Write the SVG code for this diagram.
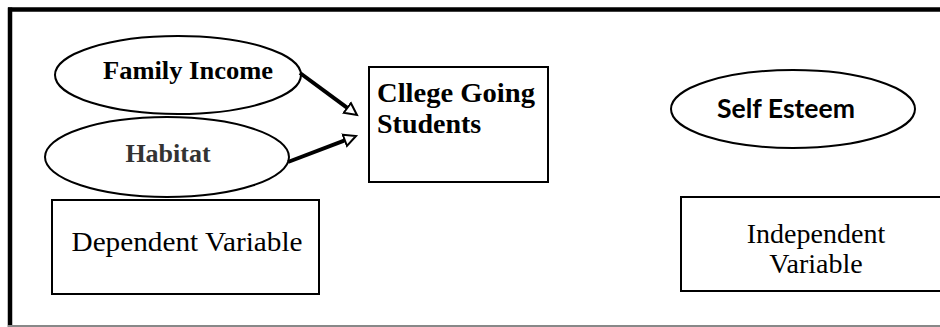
<svg xmlns="http://www.w3.org/2000/svg" width="940" height="327" viewBox="0 0 940 327">
<style>
.shape{fill:#fff;stroke:#000;stroke-width:2}
.serif{font-family:"Liberation Serif","Times New Roman",serif}
.b{font-weight:bold}
.conn{stroke:#000;stroke-width:4;fill:none}
</style>
<defs>
<marker id="head" markerUnits="userSpaceOnUse" markerWidth="16" markerHeight="16" refX="1" refY="7" orient="auto" viewBox="0 0 16 14">
<path d="M1,1 L13,7 L1,13 Z" fill="#fff" stroke="#000" stroke-width="2"/>
</marker>
</defs>
<rect width="940" height="327" fill="#fff"/>
<g id="frame">
<line x1="8" y1="9.5" x2="940" y2="9.5" stroke="#000" stroke-width="4.5"/>
<line x1="10" y1="7.5" x2="10" y2="327" stroke="#000" stroke-width="4.5"/>
<line x1="8" y1="326" x2="940" y2="326" stroke="#888" stroke-width="2"/>
</g>
<g id="family-income">
<ellipse class="shape" cx="178" cy="75" rx="123" ry="39"/>
<text class="serif b" x="188" y="79" font-size="26" text-anchor="middle" textLength="170" lengthAdjust="spacingAndGlyphs">Family Income</text>
</g>
<g id="habitat">
<ellipse class="shape" cx="167" cy="157" rx="122" ry="40"/>
<text class="serif b" x="168" y="162" font-size="26" text-anchor="middle" fill="#333">Habitat</text>
</g>
<g id="college-going-students">
<rect class="shape" x="369" y="67" width="179" height="115" stroke-width="2.5"/>
<text class="serif b" x="377" y="102" font-size="28" textLength="158" lengthAdjust="spacingAndGlyphs">Cllege Going</text>
<text class="serif b" x="377" y="133" font-size="28">Students</text>
</g>
<g id="self-esteem">
<ellipse class="shape" cx="793" cy="109" rx="122" ry="39"/>
<text x="786" y="118" font-family="Lato,'Open Sans',sans-serif" font-weight="bold" font-size="27" text-anchor="middle" textLength="138" lengthAdjust="spacingAndGlyphs">Self Esteem</text>
</g>
<g id="dependent-variable">
<rect class="shape" x="52" y="200" width="267" height="94"/>
<text class="serif" x="187" y="251" font-size="28" text-anchor="middle" textLength="231" lengthAdjust="spacingAndGlyphs">Dependent Variable</text>
</g>
<g id="independent-variable">
<rect class="shape" x="681" y="197" width="280" height="94"/>
<text class="serif" x="816" y="243" font-size="28" text-anchor="middle">Independent</text>
<text class="serif" x="816" y="273" font-size="28" text-anchor="middle">Variable</text>
</g>
<g id="connectors">
<line class="conn" x1="300" y1="73" x2="347.3" y2="107.9" marker-end="url(#head)"/>
<line class="conn" x1="288" y1="162" x2="344.8" y2="140.3" marker-end="url(#head)"/>
</g>
</svg>
